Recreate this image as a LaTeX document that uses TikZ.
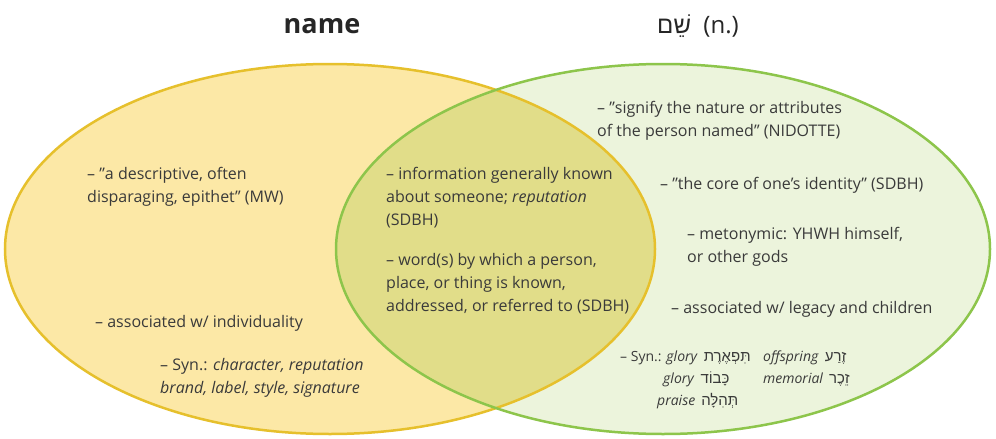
\documentclass[tikz,border=0pt]{standalone}
\usepackage{fontspec}
\setmainfont{Open Sans}
\newfontfamily\heb[Script=Hebrew]{Liberation Sans}
\TeXXeTstate=1
\definecolor{yfill}{HTML}{FCE8A6}
\definecolor{ydraw}{HTML}{E6C02C}
\definecolor{gfill}{HTML}{ECF4DC}
\definecolor{gdraw}{HTML}{8DC54B}
\definecolor{ofill}{HTML}{E1DD89}
\definecolor{txt}{HTML}{3A3A3A}
\newcommand{\hb}[1]{{\heb\fontsize{15}{20}\selectfont\beginR #1\endR}}
\tikzset{
  body/.style={anchor=base west, align=left, inner sep=0pt, text=txt,
    font=\fontsize{16}{23}\selectfont},
  small/.style={anchor=base west, inner sep=0pt, text=txt,
    font=\fontsize{14}{20}\selectfont},
  title/.style={anchor=base, inner sep=0pt, text=black!85}
}
\begin{document}
\begin{tikzpicture}[x=1pt,y=-1pt]
\useasboundingbox (0,0) rectangle (996,439);
\fill[white] (0,0) rectangle (996,439);
\def\yell{(330,249) ellipse [x radius=325pt, y radius=185pt]}
\def\gree{(663,249) ellipse [x radius=327pt, y radius=185pt]}
\fill[yfill] \yell;
\fill[gfill] \gree;
\begin{scope}
  \clip \yell;
  \fill[ofill] \gree;
\end{scope}
\draw[ydraw, line width=2.5pt] \yell;
\draw[gdraw, line width=2.5pt] \gree;

\node[title, font=\fontsize{27}{32}\selectfont\bfseries] (tname) at (322,34) {name};
\node[title, anchor=base west, font=\fontsize{24}{30}\selectfont] (tshem) at (657,33)
  {{\heb\beginR שֵׁם\endR}\ \ (n.)};

% left
\node[body] (l1) at (87,202) {– "a descriptive, often\\disparaging, epithet" (MW)};
\node[body] (l2) at (95,327) {– associated w/ individuality};
\node[body] (l3) at (160,393) {– Syn.: \textit{character, reputation}\\\textit{brand, label, style, signature}};

% middle
\node[body] (m1) at (386,225) {– information generally known\\about someone; \textit{reputation}\\(SDBH)};
\node[body] (m2) at (386,311) {– word(s) by which a person,\\place, or thing is known,\\addressed, or referred to (SDBH)};

% right
\node[body] (r1) at (597,136) {– "signify the nature or attributes\\of the person named" (NIDOTTE)};
\node[body] (r2) at (660,189) {– "the core of one's identity" (SDBH)};
\node[body] (r3) at (687,262) {– metonymic: YHWH himself,\\or other gods};
\node[body] (r4) at (671,313) {– associated w/ legacy and children};

\node[small] (s1) at (620,361) {– Syn.: \textit{glory}\, \hb{תִּפְאֶרֶת}};
\node[small] (s2) at (663,383) {\textit{glory}\,\ \hb{כָּבוֹד}};
\node[small] (s3) at (657,405) {\textit{praise}\, \hb{תְּהִלָּה}};
\node[small] (s4) at (763,361) {\textit{offspring}\, \hb{זֶרַע}};
\node[small] (s5) at (763,383) {\textit{memorial}\, \hb{זֵכֶר}};
\end{tikzpicture}
\end{document}
